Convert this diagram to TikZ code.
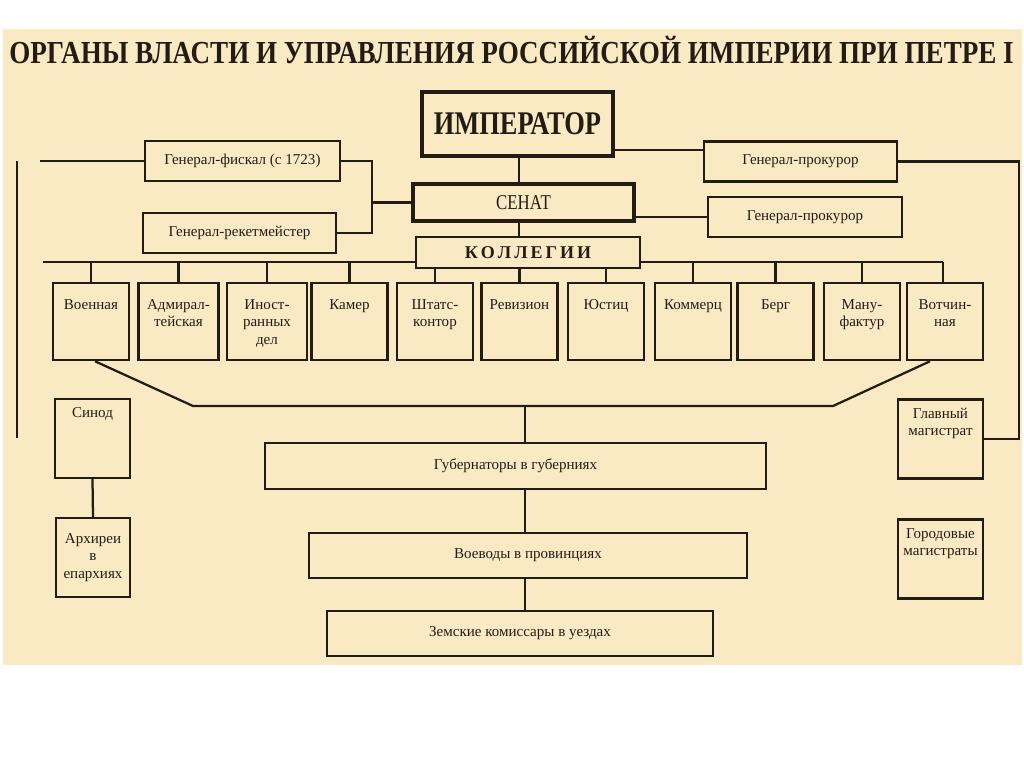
\documentclass[tikz,border=0pt]{standalone}
\usepackage{fontspec}
\setmainfont{Liberation Serif}
\newfontfamily\titlefont[FakeStretch=0.845]{Liberation Serif}
\newfontfamily\headfont[FakeStretch=0.8]{Liberation Serif}
\definecolor{paper}{RGB}{249,234,196}
\definecolor{ink}{RGB}{35,28,20}
\tikzset{
  box/.style={rectangle, draw=ink, line width=1.6pt, inner sep=0pt, text=ink,
    font=\fontsize{10.7}{12.4}\selectfont},
  mainbox/.style={box, line width=2.8pt},
  collbox/.style={box, anchor=north, text width=1.9cm, align=center,
    text height=0.65cm, text depth=1.275cm},
  sidebox/.style={box, text width=#1, align=center,
    text height=0.475cm, text depth=1.5cm},
  link/.style={draw=ink, line width=1.6pt},
}
\begin{document}
\begin{tikzpicture}[x=0.025cm, y=-0.025cm]
    \useasboundingbox (0,0) rectangle (1024,767);
    \fill[paper] (3,29) rectangle (1022,665);
    \node[anchor=base, text=ink, font=\titlefont\bfseries\fontsize{22.8}{24}\selectfont] (title) at (511.5,64) {ОРГАНЫ ВЛАСТИ И УПРАВЛЕНИЯ РОССИЙСКОЙ ИМПЕРИИ ПРИ ПЕТРЕ I};

    % верховная власть
    \node[mainbox, minimum width=4.775cm, minimum height=1.6cm, font=\headfont\bfseries\fontsize{23.5}{24}\selectfont] (emp) at (517.5,124) {ИМПЕРАТОР};
    \node[mainbox, minimum width=5.525cm, minimum height=0.925cm, font=\headfont\fontsize{15}{16}\selectfont] (senat) at (523.5,202.5) {СЕНАТ};
    \node[box, line width=2pt, minimum width=5.6cm, minimum height=0.775cm, font=\bfseries\fontsize{12.8}{14}\selectfont] (koll) at (528,252.5) {К\,О\,Л\,Л\,Е\,Г\,И\,И};

    \node[box, minimum width=4.875cm, minimum height=1cm] (fiskal) at (242.5,161) {Генерал-фискал (с 1723)};
    \node[box, minimum width=4.825cm, minimum height=1cm] (reket) at (239.5,233) {Генерал-рекетмейстер};
    \node[box, minimum width=4.825cm, minimum height=1cm] (prok1) at (800.5,161.5) {Генерал-прокурор};
    \node[box, minimum width=4.85cm, minimum height=1cm] (prok2) at (805,217) {Генерал-прокурор};

    % коллегии
    \node[collbox] (voen) at (91,282) {Военная};
    \node[collbox, text width=2cm] (admir) at (178.5,282) {Адмирал-\\тейская};
    \node[collbox, text width=2cm] (inost) at (267,282) {Иност-\\ранных\\дел};
    \node[collbox] (kamer) at (349.5,282) {Камер};
    \node[collbox] (shtats) at (435,282) {Штатс-\\контор};
    \node[collbox] (reviz) at (519.5,282) {Ревизион};
    \node[collbox] (justic) at (606,282) {Юстиц};
    \node[collbox] (kommerc) at (693,282) {Коммерц};
    \node[collbox] (berg) at (775.5,282) {Берг};
    \node[collbox] (manuf) at (862,282) {Ману-\\фактур};
    \node[collbox] (votch) at (945,282) {Вотчин-\\ная};

    % местное управление
    \node[box, minimum width=12.525cm, minimum height=1.15cm] (gub) at (515.5,466) {Губернаторы в губерниях};
    \node[box, minimum width=10.95cm, minimum height=1.125cm] (voev) at (528,555.5) {Воеводы в провинциях};
    \node[box, minimum width=9.65cm, minimum height=1.125cm] (zem) at (520,633.5) {Земские комиссары в уездах};

    \node[sidebox=1.875cm] (sinod) at (92.5,438.5) {Синод};
    \node[box, text width=1.85cm, align=center, minimum height=1.975cm] (arhi) at (93,557.5) {Архиреи\\в\\епархиях};
    \node[sidebox=2.125cm] (glavmag) at (940.5,439) {Главный\\магистрат};
    \node[sidebox=2.125cm] (gorodmag) at (940.5,559) {Городовые\\магистраты};

    % связи
    \coordinate (axis) at (519,0);
    \draw[link] (emp.south -| axis) -- (senat.north -| axis);
    \draw[link] (senat.south -| axis) -- (koll.north -| axis);
    \coordinate (eline) at (0,150);
    \draw[link] (emp.east |- eline) -- (prok1.west |- eline);
    \draw[link] (senat.east |- prok2) -- (prok2.west);
    \coordinate (rr) at (1019,300);
    \draw[link] (prok1.east) -| (rr) |- (glavmag.east);
    \coordinate (jn) at (372,202.5);
    \draw[link] (fiskal.east) -| (jn) |- (reket.east);
    \draw[link] (jn) -- (senat.west);
    \coordinate (fl) at (40,161);
    \draw[link] (fl) -- (fiskal.west);
    \coordinate (lt) at (17,161);
    \coordinate (lb) at (17,438);
    \draw[link] (lt) -- (lb);

    \coordinate (busl) at (43,262);
    \coordinate (busr) at (943,262);
    \draw[link] (busl) -- (koll.west |- busl);
    \draw[link] (koll.east |- busl) -- (busr);
    \draw[link] (voen.north |- busl) -- (voen.north);
    \draw[link] (admir.north |- busl) -- (admir.north);
    \draw[link] (inost.north |- busl) -- (inost.north);
    \draw[link] (kamer.north |- busl) -- (kamer.north);
    \draw[link] (shtats.north |- koll.south) -- (shtats.north);
    \draw[link] (reviz.north |- koll.south) -- (reviz.north);
    \draw[link] (justic.north |- koll.south) -- (justic.north);
    \draw[link] (kommerc.north |- busl) -- (kommerc.north);
    \draw[link] (berg.north |- busl) -- (berg.north);
    \draw[link] (manuf.north |- busl) -- (manuf.north);
    \draw[link] (busr) -- (busr |- votch.north);

    \coordinate (tl) at (193,406);
    \coordinate (tr) at (833,406);
    \coordinate (hub) at (525,406);
    \draw[link] ([xshift=0.1cm]voen.south) -- (tl) -- (tr) -- ([xshift=-0.375cm]votch.south);
    \draw[link] (hub) -- (hub |- gub.north);
    \draw[link] (hub |- gub.south) -- (hub |- voev.north);
    \draw[link] (hub |- voev.south) -- (hub |- zem.north);
    \draw[link] (sinod.south) -- (arhi.north);
\end{tikzpicture}
\end{document}
